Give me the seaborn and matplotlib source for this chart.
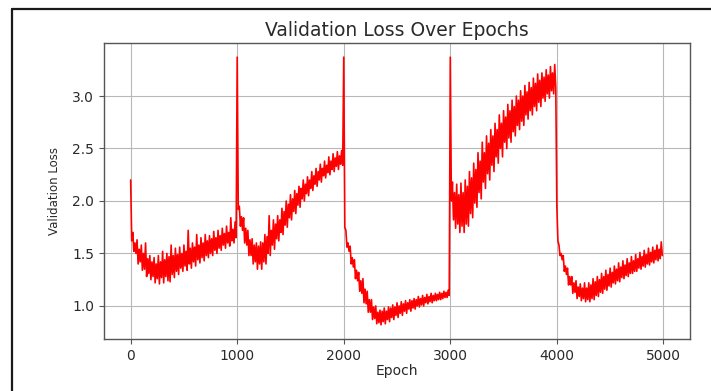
import matplotlib
matplotlib.use("Agg")
import matplotlib.pyplot as plt
from matplotlib.lines import Line2D
import seaborn as sns
import pandas as pd

# ---- data ----
# Each noisy cycle is stored as its upper and lower swing, every 20 epochs
# (upper value at epoch t, lower value at epoch t + 10).
epochs = list(range(0, 5000, 10))

high_c1 = [2.20, 1.70, 1.60, 1.63, 1.54, 1.58, 1.50, 1.60, 1.45, 1.48,
           1.42, 1.46, 1.40, 1.48, 1.42, 1.52, 1.44, 1.50, 1.47, 1.58,
           1.48, 1.55, 1.49, 1.56, 1.50, 1.58, 1.52, 1.72, 1.55, 1.60,
           1.56, 1.68, 1.58, 1.65, 1.60, 1.68, 1.62, 1.67, 1.64, 1.71,
           1.65, 1.72, 1.67, 1.74, 1.69, 1.76, 1.70, 1.84, 1.73, 1.80]
low_c1 = [1.62, 1.52, 1.50, 1.40, 1.42, 1.34, 1.35, 1.28, 1.31, 1.25,
          1.28, 1.22, 1.26, 1.21, 1.27, 1.22, 1.28, 1.24, 1.23, 1.30,
          1.27, 1.33, 1.30, 1.36, 1.33, 1.38, 1.34, 1.40, 1.36, 1.42,
          1.38, 1.44, 1.41, 1.46, 1.43, 1.48, 1.46, 1.50, 1.48, 1.53,
          1.50, 1.55, 1.53, 1.58, 1.55, 1.60, 1.57, 1.62, 1.60, 1.65]

high_c2 = [3.37, 1.95, 1.85, 1.84, 1.74, 1.72, 1.63, 1.64, 1.58, 1.60,
           1.57, 1.61, 1.60, 1.68, 1.66, 1.86, 1.72, 1.82, 1.78, 1.86,
           1.82, 1.93, 1.90, 2.00, 1.97, 2.06, 2.02, 2.10, 2.07, 2.14,
           2.12, 2.20, 2.16, 2.23, 2.20, 2.28, 2.24, 2.31, 2.28, 2.35,
           2.31, 2.38, 2.34, 2.42, 2.38, 2.45, 2.41, 2.47, 2.43, 2.48]
low_c2 = [1.92, 1.76, 1.72, 1.60, 1.58, 1.48, 1.48, 1.40, 1.42, 1.35,
          1.40, 1.35, 1.42, 1.40, 1.50, 1.48, 1.58, 1.54, 1.64, 1.62,
          1.70, 1.68, 1.77, 1.75, 1.84, 1.82, 1.90, 1.88, 1.96, 1.94,
          2.02, 2.00, 2.07, 2.05, 2.12, 2.10, 2.16, 2.14, 2.20, 2.18,
          2.24, 2.22, 2.27, 2.25, 2.30, 2.28, 2.33, 2.30, 2.35, 2.34]

high_c3 = [3.37, 1.72, 1.60, 1.57, 1.46, 1.44, 1.34, 1.32, 1.24, 1.26,
           1.16, 1.14, 1.06, 1.06, 0.99, 1.00, 0.94, 0.96, 0.95, 0.98,
           0.95, 0.99, 0.98, 1.01, 0.99, 1.03, 1.00, 1.04, 1.02, 1.05,
           1.03, 1.06, 1.05, 1.07, 1.06, 1.09, 1.07, 1.10, 1.08, 1.11,
           1.09, 1.12, 1.10, 1.12, 1.11, 1.13, 1.12, 1.14, 1.13, 1.15]
low_c3 = [1.75, 1.56, 1.52, 1.40, 1.37, 1.26, 1.24, 1.14, 1.12, 1.03,
          1.02, 0.94, 0.94, 0.87, 0.88, 0.83, 0.84, 0.82, 0.85, 0.83,
          0.87, 0.85, 0.89, 0.87, 0.91, 0.89, 0.93, 0.91, 0.95, 0.93,
          0.97, 0.95, 0.98, 0.97, 1.00, 0.99, 1.01, 1.00, 1.03, 1.02,
          1.04, 1.03, 1.05, 1.05, 1.06, 1.06, 1.07, 1.08, 1.08, 1.10]

high_c4 = [3.37, 2.18, 2.08, 2.16, 2.06, 2.17, 2.08, 2.20, 2.14, 2.28,
           2.22, 2.36, 2.30, 2.46, 2.38, 2.56, 2.46, 2.62, 2.55, 2.68,
           2.62, 2.74, 2.68, 2.82, 2.74, 2.86, 2.80, 2.92, 2.86, 2.96,
           2.90, 3.00, 2.96, 3.05, 3.00, 3.10, 3.04, 3.13, 3.08, 3.17,
           3.12, 3.21, 3.15, 3.22, 3.18, 3.25, 3.20, 3.28, 3.22, 3.30]
low_c4 = [2.00, 1.82, 1.74, 1.78, 1.70, 1.76, 1.70, 1.78, 1.76, 1.88,
          1.84, 1.98, 1.94, 2.08, 2.02, 2.18, 2.12, 2.26, 2.20, 2.34,
          2.28, 2.42, 2.36, 2.50, 2.42, 2.56, 2.50, 2.60, 2.56, 2.66,
          2.62, 2.72, 2.68, 2.76, 2.72, 2.82, 2.78, 2.86, 2.82, 2.90,
          2.86, 2.94, 2.90, 2.98, 2.95, 3.02, 2.98, 3.05, 3.02, 3.08]

high_c5 = [1.95, 1.58, 1.50, 1.48, 1.38, 1.36, 1.28, 1.28, 1.22, 1.24,
           1.18, 1.21, 1.17, 1.22, 1.17, 1.22, 1.20, 1.26, 1.23, 1.28,
           1.25, 1.31, 1.28, 1.34, 1.30, 1.36, 1.32, 1.38, 1.35, 1.41,
           1.37, 1.43, 1.39, 1.45, 1.41, 1.47, 1.43, 1.49, 1.45, 1.51,
           1.47, 1.53, 1.49, 1.55, 1.51, 1.56, 1.53, 1.58, 1.54, 1.61]
low_c5 = [1.62, 1.48, 1.44, 1.33, 1.30, 1.20, 1.20, 1.12, 1.13, 1.07,
          1.09, 1.05, 1.07, 1.04, 1.06, 1.04, 1.07, 1.06, 1.10, 1.09,
          1.13, 1.12, 1.16, 1.15, 1.19, 1.18, 1.22, 1.21, 1.24, 1.23,
          1.27, 1.26, 1.29, 1.28, 1.31, 1.31, 1.33, 1.33, 1.36, 1.35,
          1.38, 1.37, 1.40, 1.39, 1.42, 1.41, 1.44, 1.43, 1.45, 1.48]

x_ticks = [0, 1000, 2000, 3000, 4000, 5000]
y_ticks = [1.0, 1.5, 2.0, 2.5, 3.0]

val_loss = []
for highs, lows in [(high_c1, low_c1), (high_c2, low_c2), (high_c3, low_c3),
                    (high_c4, low_c4), (high_c5, low_c5)]:
    for h, l in zip(highs, lows):
        val_loss.extend([h, l])

df = pd.DataFrame({"Epoch": epochs, "Validation Loss": val_loss})

# ---- styling ----
sns.set_style("ticks")
plt.rcParams["font.family"] = ["DejaVu Sans"]
text_color = "#2a2a2a"

fig = plt.figure(figsize=(7.11, 3.91), dpi=100)
ax = fig.add_axes([0.1463, 0.1330, 0.8242, 0.7570])

sns.lineplot(data=df, x="Epoch", y="Validation Loss", color="red",
             linewidth=1.2, estimator=None, ax=ax)

ax.set_xticks(x_ticks)
ax.set_yticks(y_ticks)
ax.set_xlim(-250, 5250)
ax.set_ylim(0.685, 3.505)
ax.grid(True, color="#b8b8b8", linewidth=0.8)
ax.set_axisbelow(True)
for s in ax.spines.values():
    s.set_color("#555555")
    s.set_linewidth(1.0)
ax.tick_params(axis="both", labelsize=10, colors="#555555",
               labelcolor=text_color, length=3.5, width=0.8)

ax.set_title("Validation Loss Over Epochs", fontsize=13.5, color=text_color, pad=5)
ax.set_xlabel("Epoch", fontsize=10, color=text_color, labelpad=1)
ax.set_ylabel("Validation Loss", fontsize=8.5, color=text_color, labelpad=8)

# screenshot frame (top and left edges)
W, H = 711, 391
fig.add_artist(Line2D([12 / W, 1.0], [1 - 9 / H, 1 - 9 / H],
                      transform=fig.transFigure, color="#1a1a1a", linewidth=1.6))
fig.add_artist(Line2D([12 / W, 12 / W], [0.0, 1 - 9 / H],
                      transform=fig.transFigure, color="#1a1a1a", linewidth=1.6))

fig.savefig("out.png", dpi=100, facecolor="white")
